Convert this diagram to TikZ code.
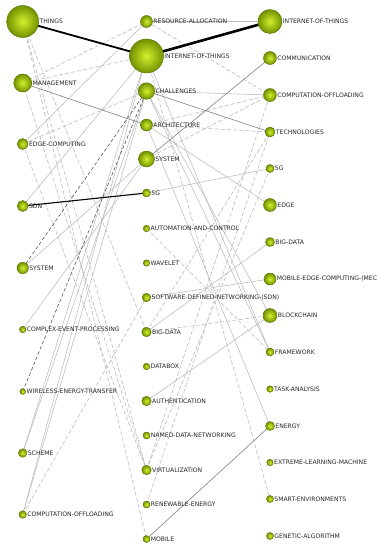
\documentclass[tikz,border=0pt]{standalone}
\usepackage{fontspec}
\setmainfont{DejaVu Sans}
\pgfdeclarelayer{bg}
\pgfsetlayers{bg,main}
\definecolor{ballin}{HTML}{D4EF2E}
\definecolor{ballout}{HTML}{729200}
\definecolor{ballrim}{HTML}{587400}
\definecolor{lbltext}{HTML}{262626}
\definecolor{lightln}{HTML}{BBBBBB}
\definecolor{midln}{HTML}{888888}
\definecolor{darkdash}{HTML}{555555}
\tikzset{
  kw/.style={circle, inner sep=0pt, minimum size=#1, draw=ballrim, line width=0.45pt,
    inner color=ballin, outer color=ballout},
  lbl/.style={font=\fontsize{6.1}{7}\selectfont, text=lbltext, inner sep=0.5pt},
  solidlight/.style={draw=lightln, line width=0.55pt},
  solidmid/.style={draw=midln, line width=0.65pt},
  dashlight/.style={draw=lightln, line width=0.6pt, dash pattern=on 4pt off 2.2pt},
  dashdark/.style={draw=darkdash, line width=0.6pt, dash pattern=on 3.5pt off 2.2pt},
  blackthick/.style={draw=black, line width=#1},
}
\begin{document}
\begin{tikzpicture}[x=1pt,y=-1pt]
\useasboundingbox (0,0) rectangle (382,550);
% left column
\node[kw=32pt, label={[lbl]0:THINGS}] (L1) at (22.7,21.5) {};
\node[kw=18pt, label={[lbl]0:MANAGEMENT}] (L2) at (22.7,83) {};
\node[kw=11pt, label={[lbl]0:EDGE-COMPUTING}] (L3) at (22.7,144) {};
\node[kw=11pt, label={[lbl]0:SDN}] (L4) at (22.7,206) {};
\node[kw=11.5pt, label={[lbl]0:SYSTEM}] (L5) at (22.7,268) {};
\node[kw=6.5pt, label={[lbl]0:COMPLEX-EVENT-PROCESSING}] (L6) at (22.7,329.5) {};
\node[kw=5.8pt, label={[lbl]0:WIRELESS-ENERGY-TRANSFER}] (L7) at (22.7,391.5) {};
\node[kw=8.5pt, label={[lbl]0:SCHEME}] (L8) at (22.7,453) {};
\node[kw=7.5pt, label={[lbl]0:COMPUTATION-OFFLOADING}] (L9) at (22.7,514.5) {};
% middle column
\node[kw=12pt, label={[lbl]0:RESOURCE-ALLOCATION}] (M1) at (146.5,21.5) {};
\node[kw=34pt, label={[lbl]0:INTERNET-OF-THINGS}] (M2) at (146.5,56) {};
\node[kw=16.5pt, label={[lbl]0:CHALLENGES}] (M3) at (146.5,91) {};
\node[kw=12pt, label={[lbl]0:ARCHITECTURE}] (M4) at (146.5,125) {};
\node[kw=16pt, label={[lbl]0:SYSTEM}] (M5) at (146.5,159) {};
\node[kw=8pt, label={[lbl]0:5G}] (M6) at (146.5,193) {};
\node[kw=6.5pt, label={[lbl]0:AUTOMATION-AND-CONTROL}] (M7) at (146.5,228.5) {};
\node[kw=6.5pt, label={[lbl]0:WAVELET}] (M8) at (146.5,263) {};
\node[kw=8.5pt, label={[lbl]0:SOFTWARE-DEFINED-NETWORKING-(SDN)}] (M9) at (146.5,297.5) {};
\node[kw=9.5pt, label={[lbl]0:BIG-DATA}] (M10) at (146.5,332) {};
\node[kw=6.5pt, label={[lbl]0:DATABOX}] (M11) at (146.5,366.5) {};
\node[kw=9.5pt, label={[lbl]0:AUTHENTICATION}] (M12) at (146.5,401) {};
\node[kw=7pt, label={[lbl]0:NAMED-DATA-NETWORKING}] (M13) at (146.5,435.5) {};
\node[kw=9.5pt, label={[lbl]0:VIRTUALIZATION}] (M14) at (146.5,470) {};
\node[kw=7pt, label={[lbl]0:RENEWABLE-ENERGY}] (M15) at (146.5,504.5) {};
\node[kw=7pt, label={[lbl]0:MOBILE}] (M16) at (146.5,539) {};
% right column
\node[kw=24pt, label={[lbl]0:INTERNET-OF-THINGS}] (R1) at (270,21.5) {};
\node[kw=13pt, label={[lbl]0:COMMUNICATION}] (R2) at (270,58) {};
\node[kw=13pt, label={[lbl]0:COMPUTATION-OFFLOADING}] (R3) at (270,95) {};
\node[kw=10pt, label={[lbl]0:TECHNOLOGIES}] (R4) at (270,132) {};
\node[kw=8pt, label={[lbl]0:5G}] (R5) at (270,168.5) {};
\node[kw=13pt, label={[lbl]0:EDGE}] (R6) at (270,205) {};
\node[kw=9pt, label={[lbl]0:BIG-DATA}] (R7) at (270,242) {};
\node[kw=12pt, label={[lbl]0:MOBILE-EDGE-COMPUTING-(MEC}] (R8) at (270,279) {};
\node[kw=14pt, label={[lbl]0:BLOCKCHAIN}] (R9) at (270,315.5) {};
\node[kw=8pt, label={[lbl]0:FRAMEWORK}] (R10) at (270,352) {};
\node[kw=6.5pt, label={[lbl]0:TASK-ANALYSIS}] (R11) at (270,389) {};
\node[kw=9pt, label={[lbl]0:ENERGY}] (R12) at (270,426) {};
\node[kw=6.5pt, label={[lbl]0:EXTREME-LEARNING-MACHINE}] (R13) at (270,462.5) {};
\node[kw=7pt, label={[lbl]0:SMART-ENVIRONMENTS}] (R14) at (270,499) {};
\node[kw=7pt, label={[lbl]0:GENETIC-ALGORITHM}] (R15) at (270,536) {};
\begin{pgfonlayer}{bg}
% left -> middle
\draw[dashlight] (L2.center) -- (M2.center);
\draw[dashlight] (L2.center) -- (M1.center);
\draw[solidlight] (L3.center) -- (M1.center);
\draw[dashlight] (L3.center) -- (M3.center);
\draw[dashlight] (L3.center) -- (M14.center);
\draw[solidlight] (L4.center) -- (M2.center);
\draw[solidlight] (L5.center) -- (M5.center);
\draw[solidlight] (L6.center) -- (M5.center);
\draw[solidlight] (L8.center) -- (M3.center);
\draw[solidlight] (L8.center) -- (M2.center);
\draw[solidlight] (L9.center) -- (M3.center);
\draw[solidlight] (L9.center) -- (M2.center);
\draw[dashlight] (L9.center) -- (M9.center);
\draw[dashlight] (L1.center) -- (M10.center);
\draw[dashlight] (L1.center) -- (M16.center);
\draw[dashlight] (L1.center) -- (M14.center);
\draw[dashlight] (L2.center) -- (M14.center);
\draw[dashdark] (L5.center) -- (M3.center);
\draw[dashdark] (L7.center) -- (M3.center);
\draw[solidmid] (L2.center) -- (M4.center);
\draw[blackthick=1.1pt] (L4.center) -- (M6.center);
\draw[blackthick=1.8pt] (L1.center) -- (M2.center);
% middle -> right
\draw[solidlight] (M1.center) -- (R1.center);
\draw[dashlight] (M1.center) -- (R3.center);
\draw[solidlight] (M3.center) -- (R3.center);
\draw[dashlight] (M4.center) -- (R3.center);
\draw[dashlight] (M5.center) -- (R3.center);
\draw[dashlight] (M4.center) -- (R4.center);
\draw[solidlight] (M6.center) -- (R5.center);
\draw[solidlight] (M4.center) -- (R6.center);
\draw[dashlight] (M14.center) -- (R5.center);
\draw[dashlight] (M14.center) -- (R3.center);
\draw[dashlight] (M15.center) -- (R4.center);
\draw[dashlight] (M10.center) -- (R4.center);
\draw[solidlight] (M10.center) -- (R7.center);
\draw[solidlight] (M9.center) -- (R8.center);
\draw[dashlight] (M10.center) -- (R9.center);
\draw[solidlight] (M12.center) -- (R9.center);
\draw[dashlight] (M7.center) -- (R10.center);
\draw[solidlight] (M3.center) -- (R9.center);
\draw[solidlight] (M3.center) -- (R10.center);
\draw[solidlight] (M2.center) -- (R10.center);
\draw[solidlight] (M4.center) -- (R12.center);
\draw[dashlight] (M2.center) -- (R14.center);
\draw[solidmid] (M3.center) -- (R4.center);
\draw[solidmid] (M5.center) -- (R2.center);
\draw[solidmid] (M16.center) -- (R12.center);
\draw[blackthick=2.6pt] (M2.center) -- (R1.center);
\end{pgfonlayer}
\end{tikzpicture}
\end{document}
